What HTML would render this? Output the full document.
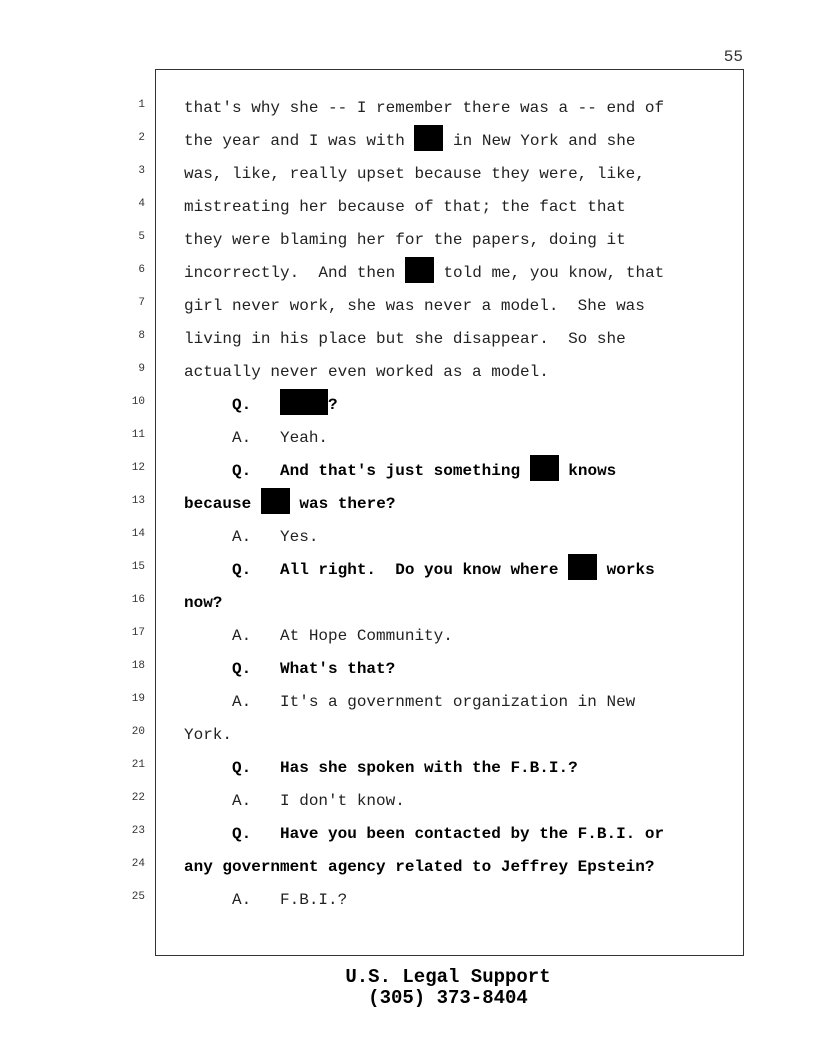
<!DOCTYPE html>
<html><head><meta charset="utf-8"><style>
body{margin:0;width:816px;height:1056px;background:#fff;position:relative;font-family:"Liberation Mono",monospace;overflow:hidden}
.box{position:absolute;left:155px;top:69px;width:587px;height:885px;border:1px solid #333;border-width:1px 1px 1px 1px}
.n{position:absolute;left:110px;width:35px;text-align:right;font-size:11px;color:#333;font-family:"Liberation Mono",monospace}
.l{position:absolute;left:184px;font-size:16px;white-space:pre;color:#222;line-height:20px;margin-top:2px}
.b{font-weight:bold;color:#000}
.r{display:inline-block;background:#000;height:26px;vertical-align:middle;margin-top:-6px}
.r3{width:29px}.r5{width:48px}
.pg{position:absolute;right:73px;top:48px;font-size:16px;color:#333}
.f{position:absolute;left:0;width:896px;text-align:center;font-weight:bold;font-size:19px;color:#000}
</style></head><body>
<div class="pg">55</div>
<div class="box"></div>
<div class="n" style="top:99px">1</div><div class="l" style="top:96px">that's why she -- I remember there was a -- end of</div>
<div class="n" style="top:132px">2</div><div class="l" style="top:129px">the year and I was with <span class="r r3"></span> in New York and she</div>
<div class="n" style="top:165px">3</div><div class="l" style="top:162px">was, like, really upset because they were, like,</div>
<div class="n" style="top:198px">4</div><div class="l" style="top:195px">mistreating her because of that; the fact that</div>
<div class="n" style="top:231px">5</div><div class="l" style="top:228px">they were blaming her for the papers, doing it</div>
<div class="n" style="top:264px">6</div><div class="l" style="top:261px">incorrectly.  And then <span class="r r3"></span> told me, you know, that</div>
<div class="n" style="top:297px">7</div><div class="l" style="top:294px">girl never work, she was never a model.  She was</div>
<div class="n" style="top:330px">8</div><div class="l" style="top:327px">living in his place but she disappear.  So she</div>
<div class="n" style="top:363px">9</div><div class="l" style="top:360px">actually never even worked as a model.</div>
<div class="n" style="top:396px">10</div><div class="l b" style="top:393px">     Q.   <span class="r r5"></span>?</div>
<div class="n" style="top:429px">11</div><div class="l" style="top:426px">     A.   Yeah.</div>
<div class="n" style="top:462px">12</div><div class="l b" style="top:459px">     Q.   And that's just something <span class="r r3"></span> knows</div>
<div class="n" style="top:495px">13</div><div class="l b" style="top:492px">because <span class="r r3"></span> was there?</div>
<div class="n" style="top:528px">14</div><div class="l" style="top:525px">     A.   Yes.</div>
<div class="n" style="top:561px">15</div><div class="l b" style="top:558px">     Q.   All right.  Do you know where <span class="r r3"></span> works</div>
<div class="n" style="top:594px">16</div><div class="l b" style="top:591px">now?</div>
<div class="n" style="top:627px">17</div><div class="l" style="top:624px">     A.   At Hope Community.</div>
<div class="n" style="top:660px">18</div><div class="l b" style="top:657px">     Q.   What's that?</div>
<div class="n" style="top:693px">19</div><div class="l" style="top:690px">     A.   It's a government organization in New</div>
<div class="n" style="top:726px">20</div><div class="l" style="top:723px">York.</div>
<div class="n" style="top:759px">21</div><div class="l b" style="top:756px">     Q.   Has she spoken with the F.B.I.?</div>
<div class="n" style="top:792px">22</div><div class="l" style="top:789px">     A.   I don't know.</div>
<div class="n" style="top:825px">23</div><div class="l b" style="top:822px">     Q.   Have you been contacted by the F.B.I. or</div>
<div class="n" style="top:858px">24</div><div class="l b" style="top:855px">any government agency related to Jeffrey Epstein?</div>
<div class="n" style="top:891px">25</div><div class="l" style="top:888px">     A.   F.B.I.?</div>
<div class="f" style="top:966px">U.S. Legal Support</div>
<div class="f" style="top:987px">(305) 373-8404</div>
</body></html>
